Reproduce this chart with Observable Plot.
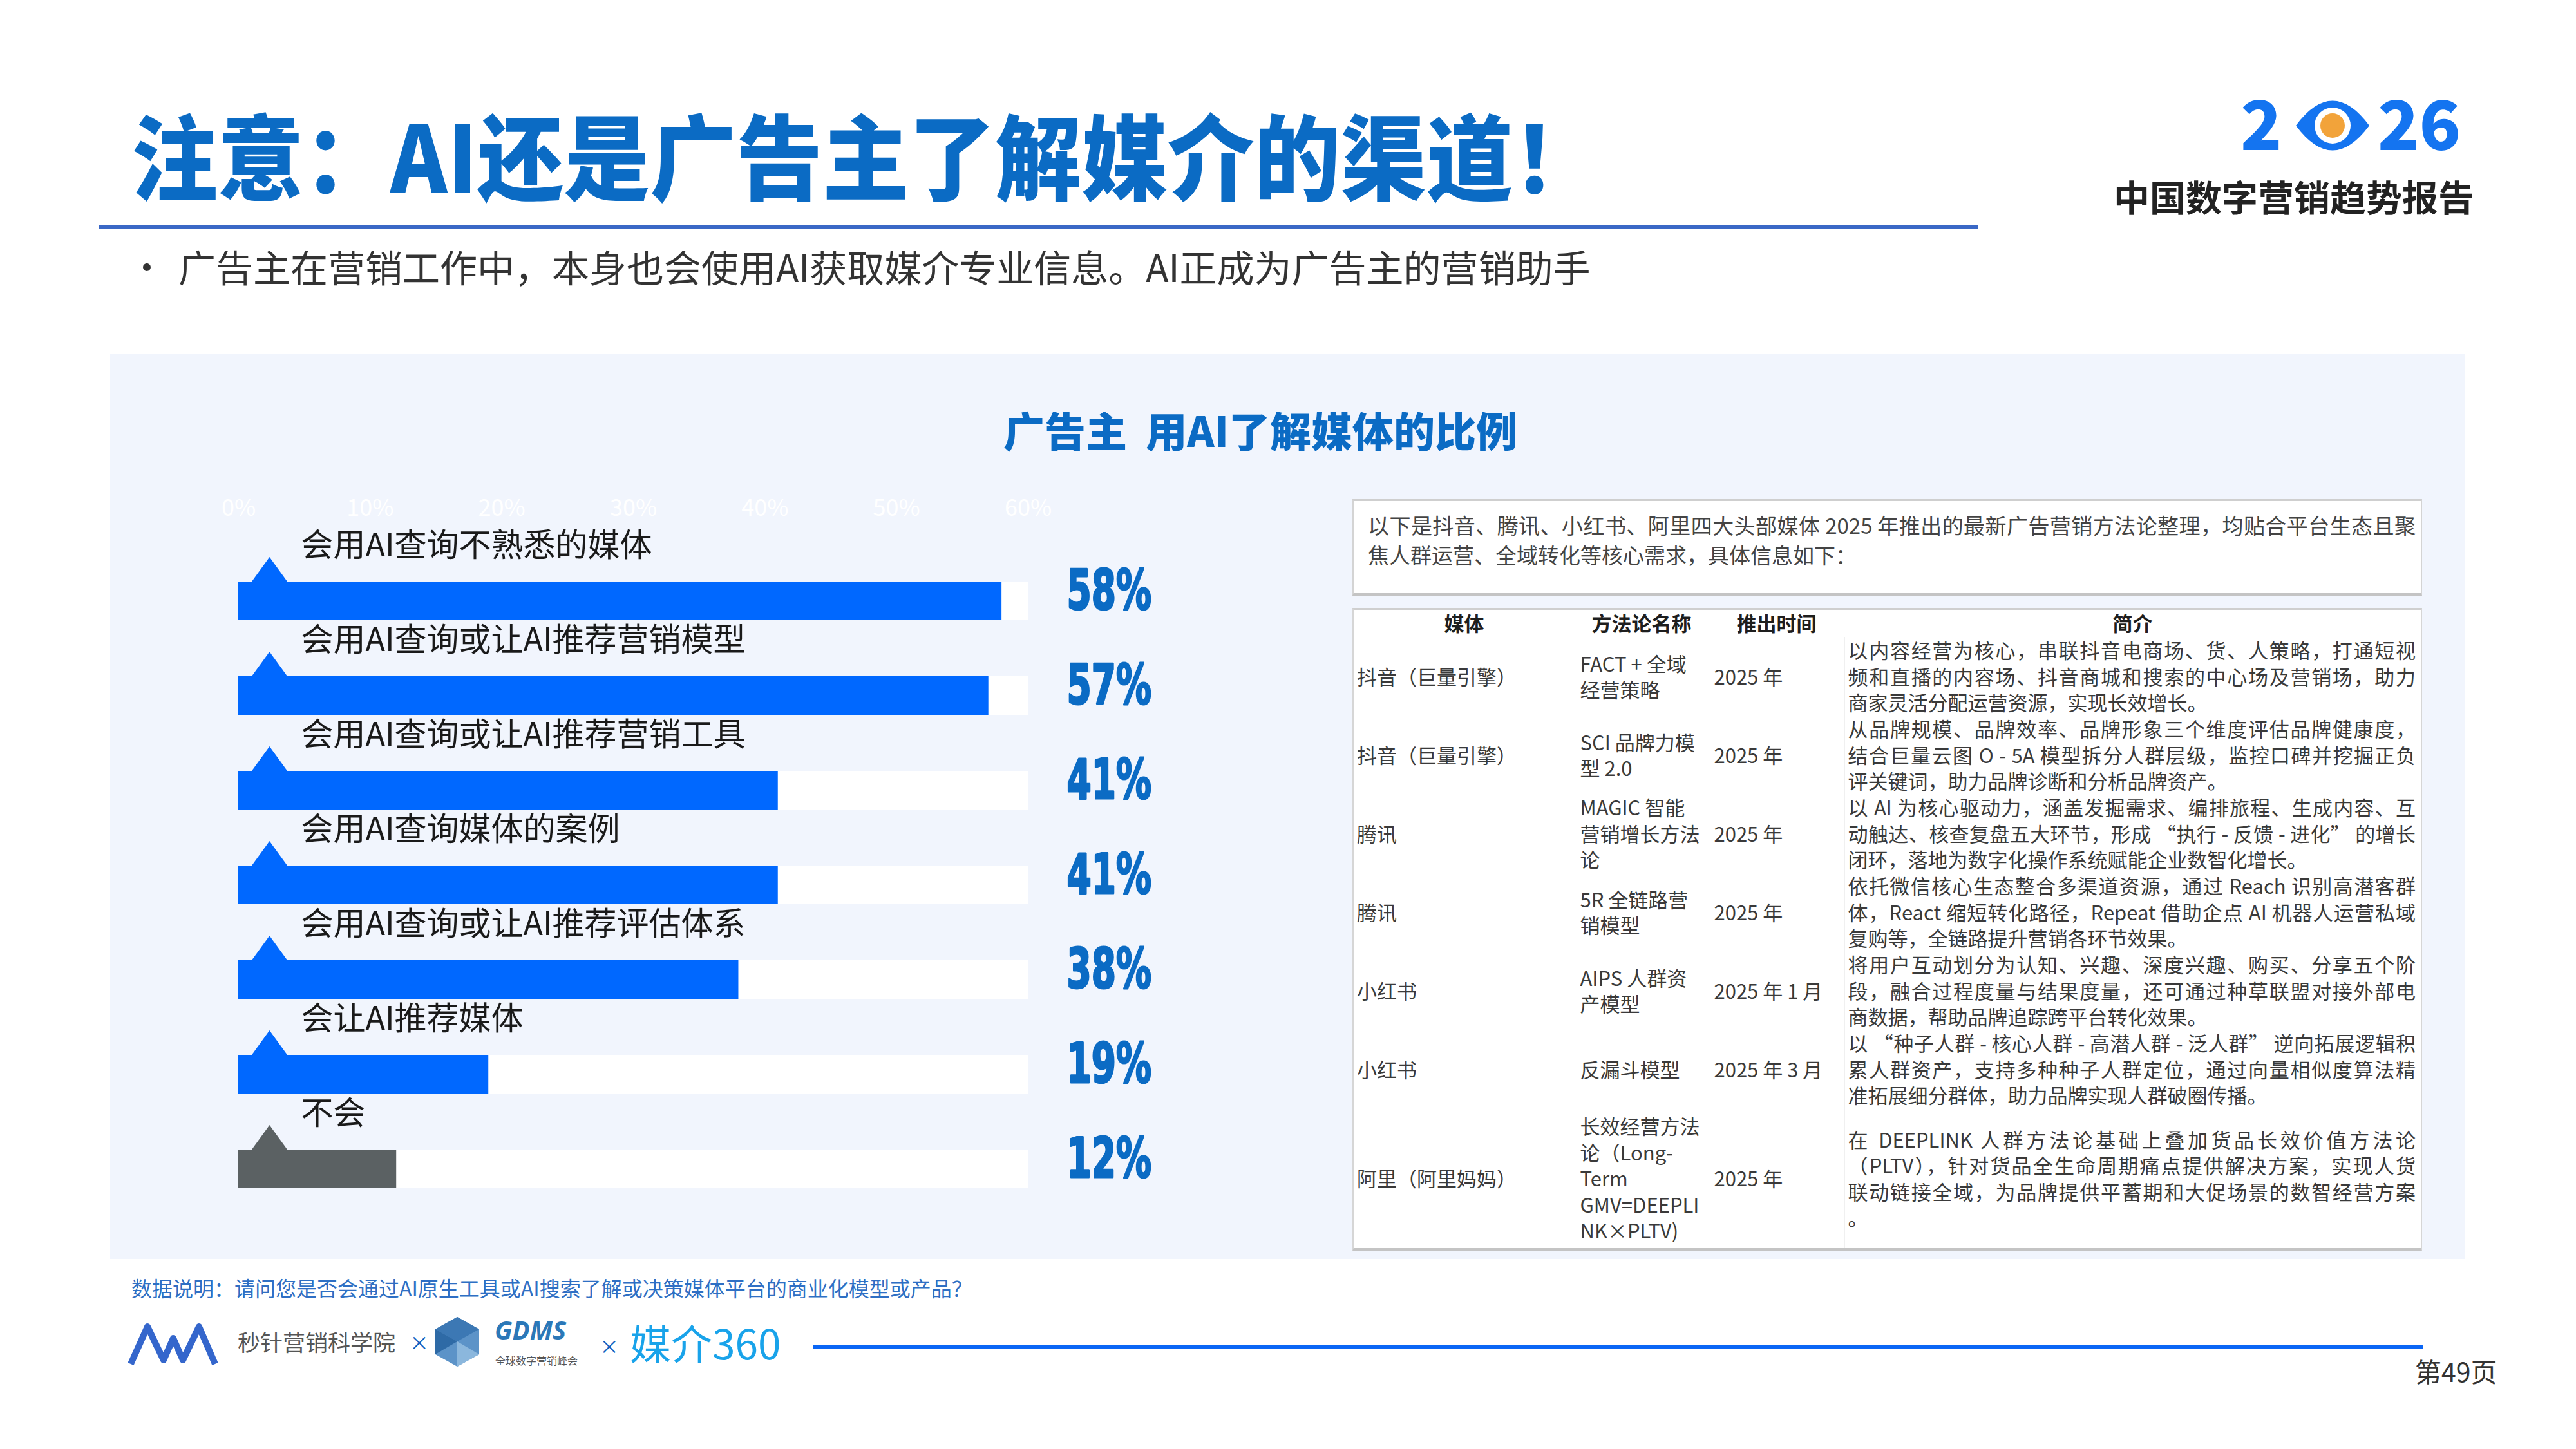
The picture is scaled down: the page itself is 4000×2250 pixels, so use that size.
<!DOCTYPE html>
<html><head><meta charset="utf-8">
<script src="https://cdn.jsdelivr.net/npm/d3@7"></script>
<script src="https://cdn.jsdelivr.net/npm/@observablehq/plot@0.6"></script>
<style>
html,body{margin:0;padding:0;background:#fff;}
#page{position:relative;width:4000px;height:2250px;overflow:hidden;background:#fff;font-family:"Noto Sans CJK SC","Noto Sans",sans-serif;}
.abs{position:absolute;white-space:nowrap;line-height:1;}
#tbl{border-collapse:collapse;table-layout:fixed;width:1657px;font-size:31px;color:#3a3a3a;}
#tbl td{vertical-align:middle;line-height:40.5px;padding:0;}
#tbl th{font-weight:700;color:#1e1e1e;font-size:31px;height:38px;padding:0 0 4px 0;text-align:center;vertical-align:middle;line-height:1;}
.jl{text-align:justify;text-align-last:justify;}
</style></head>
<body><div id="page">
  <div class="abs" style="left:204px;top:165px;font-size:134px;font-weight:900;color:#0B6BC4;transform:scale(1,1.08);transform-origin:0 0;">注意：AI还是广告主了解媒介的渠道！</div>
  <div class="abs" style="left:154px;top:349px;width:2918px;height:6px;background:#3A68C6;"></div>
  <svg class="abs" style="left:3440px;top:80px;" width="520" height="200" viewBox="3440 80 520 200">
    <text x="3479" y="233" font-size="106" font-weight="900" fill="#1474F0" font-family="Noto Sans CJK SC">2</text>
    <path d="M3565,195 Q3622,118 3679,195 Q3622,272 3565,195 Z" fill="#1474F0"/>
    <circle cx="3622" cy="195" r="28" fill="#fff"/>
    <circle cx="3622" cy="195" r="19" fill="#F2A33A"/>
    <text x="3692" y="233" font-size="106" font-weight="900" fill="#1474F0" font-family="Noto Sans CJK SC">26</text>
  </svg>
  <div class="abs" style="left:3282px;top:276px;font-size:56px;font-weight:700;color:#222;">中国数字营销趋势报告</div>
  <div class="abs" style="left:200px;top:384px;font-size:56px;color:#333;">•</div>
  <div class="abs" style="left:277px;top:384px;font-size:58px;color:#333;">广告主在营销工作中，本身也会使用AI获取媒介专业信息。AI正成为广告主的营销助手</div>

  <div class="abs" style="left:171px;top:550px;width:3656px;height:1405px;background:#F1F5FD;"></div>
  <div class="abs" style="left:957px;top:634px;width:2000px;text-align:center;font-size:64px;font-weight:900;color:#0B6BC4;white-space:pre;">广告主  用AI了解媒体的比例</div>
  <div id="chart" class="abs" style="left:300px;top:740px;"></div>

  <div id="intro" class="abs" style="left:2100px;top:775px;width:1661px;height:150px;box-sizing:border-box;background:#fff;border:2px solid #d4d4d4;border-top:3px solid #cfcfcf;border-bottom:4px solid #c4c4c4;padding:14px 8px 0 22px;font-size:33px;color:#444;line-height:46px;white-space:normal;"></div>
  <div class="abs" style="left:2100px;top:944px;width:1661px;height:999px;box-sizing:border-box;background:#fff;border:2px solid #d6d6d6;border-top:3px solid #cfcfcf;border-bottom:5px solid #c4c4c4;white-space:normal;line-height:normal;">
    <table id="tbl"><colgroup><col style="width:343px"><col style="width:208px"><col style="width:211px"><col style="width:895px"></colgroup><thead><tr id="thead"></tr></thead><tbody id="tbody"></tbody></table>
  </div>

  <div class="abs" style="left:204px;top:1983px;font-size:32px;color:#2E6FC4;">数据说明：请问您是否会通过AI原生工具或AI搜索了解或决策媒体平台的商业化模型或产品？</div>

  <svg class="abs" style="left:190px;top:2030px;" width="1070" height="110" viewBox="190 2030 1070 110">
    <path d="M203,2118 L229,2060 L254,2112 L269,2078 L284,2112 L309,2060 L334,2118" fill="none" stroke="#3466CC" stroke-width="10" stroke-linejoin="round"/>
    <text x="369" y="2098" font-size="35" fill="#555" font-family="Noto Sans CJK SC">秒针营销科学院</text>
    <text x="636" y="2096" font-size="30" fill="#1060C0" font-family="Noto Sans CJK SC">×</text>
    <polygon points="710,2045 744,2064 744,2103 710,2122 676,2103 676,2064" fill="#5C93C8"/>
    <polygon points="710,2045 744,2064 710,2083 676,2064" fill="#3C78B4"/>
    <polygon points="710,2083 744,2103 710,2122" fill="#8BB7DD"/>
    <polygon points="676,2064 710,2083 676,2103" fill="#2E6AA6"/>
    <text x="768" y="2080" font-size="40" font-weight="700" font-style="italic" fill="#2B78B8" font-family="Noto Sans">GDMS</text>
    <text x="769" y="2119" font-size="16" fill="#555" font-family="Noto Sans CJK SC">全球数字营销峰会</text>
    <text x="931" y="2102" font-size="30" fill="#1060C0" font-family="Noto Sans CJK SC">×</text>
    <text x="978" y="2111" font-size="64" fill="#19A3EA" font-family="Noto Sans CJK SC">媒介360</text>
  </svg>
  <div class="abs" style="left:1263px;top:2088px;width:2500px;height:6px;background:#0A66F5;"></div>
  <div class="abs" style="left:3750px;top:2108px;font-size:41px;color:#333;">第49页</div>
</div>
<script>
// ---- chart data ----
const categories = ["会用AI查询不熟悉的媒体","会用AI查询或让AI推荐营销模型","会用AI查询或让AI推荐营销工具","会用AI查询媒体的案例","会用AI查询或让AI推荐评估体系","会让AI推荐媒体","不会"];
const values = [58, 57, 41, 41, 38, 19, 12];
const axisMax = 60;
const axisTicks = [0, 10, 20, 30, 40, 50, 60];
const barColors = ["#0068FF","#0068FF","#0068FF","#0068FF","#0068FF","#0068FF","#5B6163"];

// ---- right-hand text data ----
const introLines = ["以下是抖音、腾讯、小红书、阿里四大头部媒体 2025 年推出的最新广告营销方法论整理，均贴合平台生态且聚","焦人群运营、全域转化等核心需求，具体信息如下："];
const tableHeaders = ["媒体","方法论名称","推出时间","简介"];
const media = ["抖音（巨量引擎）","抖音（巨量引擎）","腾讯","腾讯","小红书","小红书","阿里（阿里妈妈）"];
const methods = [["FACT + 全域","经营策略"],["SCI 品牌力模","型 2.0"],["MAGIC 智能","营销增长方法","论"],["5R 全链路营","销模型"],["AIPS 人群资","产模型"],["反漏斗模型"],["长效经营方法","论（Long-","Term","GMV=DEEPLI","NK×PLTV)"]];
const launchTimes = ["2025 年","2025 年","2025 年","2025 年","2025 年 1 月","2025 年 3 月","2025 年"];
const descriptions = [
  ["以内容经营为核心，串联抖音电商场、货、人策略，打通短视","频和直播的内容场、抖音商城和搜索的中心场及营销场，助力","商家灵活分配运营资源，实现长效增长。"],
  ["从品牌规模、品牌效率、品牌形象三个维度评估品牌健康度，","结合巨量云图 O - 5A 模型拆分人群层级，监控口碑并挖掘正负","评关键词，助力品牌诊断和分析品牌资产。"],
  ["以 AI 为核心驱动力，涵盖发掘需求、编排旅程、生成内容、互","动触达、核查复盘五大环节，形成 “执行 - 反馈 - 进化” 的增长","闭环，落地为数字化操作系统赋能企业数智化增长。"],
  ["依托微信核心生态整合多渠道资源，通过 Reach 识别高潜客群","体，React 缩短转化路径，Repeat 借助企点 AI 机器人运营私域","复购等，全链路提升营销各环节效果。"],
  ["将用户互动划分为认知、兴趣、深度兴趣、购买、分享五个阶","段，融合过程度量与结果度量，还可通过种草联盟对接外部电","商数据，帮助品牌追踪跨平台转化效果。"],
  ["以 “种子人群 - 核心人群 - 高潜人群 - 泛人群” 逆向拓展逻辑积","累人群资产，支持多种种子人群定位，通过向量相似度算法精","准拓展细分群体，助力品牌实现人群破圈传播。"],
  ["在 DEEPLINK 人群方法论基础上叠加货品长效价值方法论","（PLTV），针对货品全生命周期痛点提供解决方案，实现人货","联动链接全域，为品牌提供平蓄期和大促场景的数智经营方案","。"]
];

// ---- bar chart ----
const rows = categories.map((label, i) => ({label, value: values[i], color: barColors[i]}));
const triangle = {draw(ctx) { ctx.moveTo(-29, 21); ctx.lineTo(0, -19); ctx.lineTo(29, 21); ctx.closePath(); }};

const chart = Plot.plot({
  width: 1560, height: 1115,
  marginLeft: 70, marginRight: 264, marginTop: 76, marginBottom: 10,
  style: {background: "transparent", fontFamily: "'Noto Sans CJK SC', sans-serif", fontSize: "36px", color: "#ffffff", overflow: "visible"},
  x: {domain: [0, axisMax], axis: "top", ticks: axisTicks, tickFormat: d => d + "%", tickSize: 0, tickPadding: 16, label: null},
  y: {domain: categories, axis: null, padding: 0},
  color: {type: "identity"},
  marks: [
    Plot.barX(rows, {x1: () => 0, x2: () => axisMax, y: "label", fill: "#ffffff", insetTop: 87}),
    Plot.barX(rows, {x1: () => 0, x2: "value", y: "label", fill: "color", insetTop: 87}),
    Plot.dot(rows, {x: () => 0, y: "label", fill: "color", stroke: null, symbol: triangle, r: 10, dx: 48, dy: -6}),
    Plot.text(rows, {x: () => 0, y: "label", text: "label", textAnchor: "start", dx: 97, dy: -42, fontSize: 50, fill: "#1a1a1a", fontFamily: "Noto Sans CJK SC"}),
    Plot.text(rows, {x: () => axisMax, y: "label", text: d => d.value + "%", textAnchor: "start", dx: 60, dy: 28, fontSize: 86, fontWeight: "bold", fontFamily: "DejaVu Sans Condensed", fill: "#0B6BC4", stroke: "#0B6BC4", strokeWidth: 3})
  ]
});
document.getElementById("chart").appendChild(chart);
// condense the percentage labels horizontally (style only)
chart.querySelectorAll('g[font-size="86"] text, text[font-size="86"]').forEach(t => {
  const tr = t.getAttribute("transform");
  if (tr) t.setAttribute("transform", tr + " scale(0.71,1)");
  else {
    const x = t.getAttribute("x") || 0, y = t.getAttribute("y") || 0;
    t.setAttribute("transform", `translate(${x},${y}) scale(0.71,1)`);
    t.setAttribute("x", 0); t.setAttribute("y", 0);
  }
});

// ---- intro box ----
const intro = document.getElementById("intro");
introLines.forEach((ln, i) => {
  const d = document.createElement("div");
  d.textContent = ln;
  if (i < introLines.length - 1) d.className = "jl";
  intro.appendChild(d);
});

// ---- table ----
const thead = document.getElementById("thead");
tableHeaders.forEach(h => { const th = document.createElement("th"); th.textContent = h; thead.appendChild(th); });
const tbody = document.getElementById("tbody");
const pads = ["0 0 0 5px", "0 0 0 8px", "0 0 0 8px", "0 8px 0 5px"];
media.forEach((m, i) => {
  const tr = document.createElement("tr");
  tr.style.height = (i === media.length - 1 ? 217 : 122) + "px";
  const cells = [[m], methods[i], [launchTimes[i]], descriptions[i]];
  cells.forEach((lines, c) => {
    const td = document.createElement("td");
    td.style.padding = pads[c];
    if (c > 0) td.style.borderLeft = "1px solid #f0f0f0";
    lines.forEach((ln, k) => {
      const d = document.createElement("div");
      d.textContent = ln;
      d.style.whiteSpace = c === 3 ? "normal" : "nowrap";
      if (c === 3 && k < lines.length - 1) d.className = "jl";
      td.appendChild(d);
    });
    tr.appendChild(td);
  });
  tbody.appendChild(tr);
});
</script>
</body></html>
